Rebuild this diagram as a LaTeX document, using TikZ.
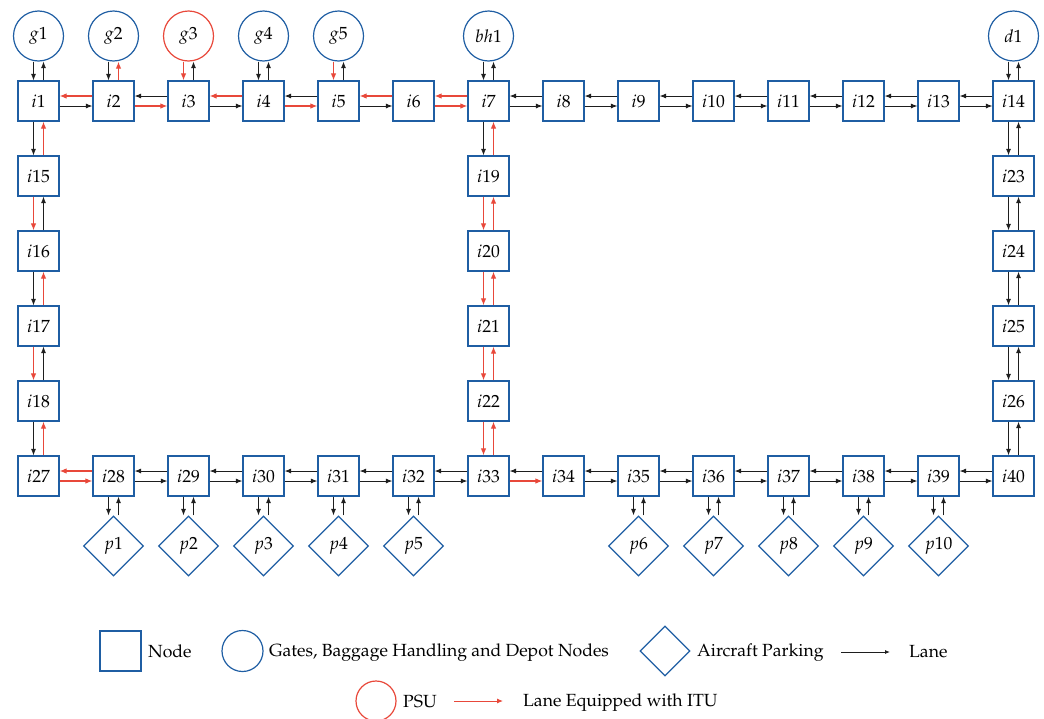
\documentclass[tikz,border=0pt]{standalone}
\usepackage[T1]{fontenc}
\usepackage{mathpazo}
\usetikzlibrary{arrows.meta,shapes.geometric}
\definecolor{nblue}{RGB}{31,94,163}
\definecolor{lred}{RGB}{232,72,58}
\definecolor{lblack}{RGB}{30,30,30}
\newcommand\hpair[4]{%
 \draw[#3] ([yshift=5pt]#2.west) -- ([yshift=5pt]#1.east);
 \draw[#4] ([yshift=-5pt]#1.east) -- ([yshift=-5pt]#2.west);}
\newcommand\vpair[4]{%
 \draw[#3] ([xshift=-5pt]#1.south) -- ([xshift=-5pt]#2.north);
 \draw[#4] ([xshift=5pt]#2.north) -- ([xshift=5pt]#1.south);}
\begin{document}
\begin{tikzpicture}[x=1pt,y=-1pt,
  every node/.style={font=\fontsize{17.6}{21}\selectfont},
  box/.style={draw=nblue,line width=1.2pt,minimum width=41pt,minimum height=40pt,inner sep=0pt},
  gate/.style={circle,draw=nblue,line width=1.2pt,minimum size=50pt,inner sep=0pt},
  psu/.style={gate,draw=lred},
  park/.style={diamond,draw=nblue,line width=1.2pt,minimum width=60pt,minimum height=60pt,inner sep=0pt},
  bl/.style={draw=lblack,line width=0.9pt,-{Latex[length=6.5pt,width=5pt]}},
  rd/.style={draw=lred,line width=1.15pt,-{Latex[length=7pt,width=5.5pt]}},
]
\useasboundingbox (0,0) rectangle (1044,718);
% grid nodes
\foreach \k in {1,...,14} \node[box] (i\k) at ({38.5+75*(\k-1)},101) {$i\k$};
\foreach \k/\y in {15/176,16/251,17/326,18/401} \node[box] (i\k) at (38.5,\y) {$i\k$};
\foreach \k/\y in {19/176,20/251,21/326,22/401} \node[box] (i\k) at (488.5,\y) {$i\k$};
\foreach \k/\y in {23/176,24/251,25/326,26/401} \node[box] (i\k) at (1013.5,\y) {$i\k$};
\foreach \k in {27,...,40} \node[box] (i\k) at ({38.5+75*(\k-27)},476) {$i\k$};
% gates
\node[gate] (g1) at (38.5,36) {$g1$};
\node[gate] (g2) at (113.5,36) {$g2$};
\node[psu] (g3) at (188.5,36) {$g3$};
\node[gate] (g4) at (263.5,36) {$g4$};
\node[gate] (g5) at (338.5,36) {$g5$};
\node[gate] (bh1) at (488.5,36) {$bh1$};
\node[gate] (d1) at (1013.5,36) {$d1$};
% parkings
\foreach \n/\c in {1/28,2/29,3/30,4/31,5/32,6/35,7/36,8/37,9/38,10/39} {
  \node[park] (p\n) at ({38.5+75*(\c-27)},546) {$p\n$};
  \vpair{i\c}{p\n}{bl}{bl}
}
% gate lanes
\vpair{g1}{i1}{bl}{bl}
\vpair{g2}{i2}{bl}{rd}
\vpair{g3}{i3}{rd}{bl}
\vpair{g4}{i4}{bl}{bl}
\vpair{g5}{i5}{rd}{bl}
\vpair{bh1}{i7}{bl}{bl}
\vpair{d1}{i14}{bl}{bl}
% top row
\hpair{i1}{i2}{rd}{bl}
\hpair{i2}{i3}{bl}{rd}
\hpair{i3}{i4}{rd}{bl}
\hpair{i4}{i5}{bl}{rd}
\hpair{i5}{i6}{rd}{bl}
\hpair{i6}{i7}{rd}{rd}
\foreach \a/\b in {7/8,8/9,9/10,10/11,11/12,12/13,13/14} {\hpair{i\a}{i\b}{bl}{bl}}
% left column
\vpair{i1}{i15}{bl}{rd}
\vpair{i15}{i16}{rd}{bl}
\vpair{i16}{i17}{bl}{rd}
\vpair{i17}{i18}{rd}{bl}
\vpair{i18}{i27}{bl}{rd}
% middle column
\vpair{i7}{i19}{bl}{rd}
\foreach \a/\b in {19/20,20/21,21/22,22/33} {\vpair{i\a}{i\b}{rd}{rd}}
% right column
\foreach \a/\b in {14/23,23/24,24/25,25/26,26/40} {\vpair{i\a}{i\b}{bl}{bl}}
% bottom row
\hpair{i27}{i28}{rd}{rd}
\foreach \a/\b in {28/29,29/30,30/31,31/32,32/33} {\hpair{i\a}{i\b}{bl}{bl}}
\hpair{i33}{i34}{bl}{rd}
\foreach \a/\b in {34/35,35/36,36/37,37/38,38/39,39/40} {\hpair{i\a}{i\b}{bl}{bl}}
% legend
\node[box] (lnode) at (120.5,651) {};
\node[anchor=base west,inner sep=0pt] (lnodet) at (148,657) {Node};
\node[gate,minimum size=41pt] (lgate) at (242.5,651) {};
\node[anchor=base west,inner sep=0pt] (lgatet) at (269,656) {Gates, Baggage Handling and Depot Nodes};
\node[park,minimum width=50pt,minimum height=50pt] (lpark) at (665,651) {};
\node[anchor=base west,inner sep=0pt] (lparkt) at (697,656) {Aircraft Parking};
\coordinate (la1) at (841,652);
\coordinate (la2) at (890,652);
\draw[bl,-{Latex[length=5pt,width=4pt]}] (la1) -- (la2);
\node[anchor=base west,inner sep=0pt] (llanet) at (909,657) {Lane};
\node[psu,minimum size=40pt] (lpsu) at (376,701) {};
\node[anchor=base west,inner sep=0pt] (lpsut) at (403,707) {PSU};
\coordinate (lr1) at (454,701);
\coordinate (lr2) at (503,701);
\draw[rd,line width=1pt,-{Latex[length=6pt,width=5pt]}] (lr1) -- (lr2);
\node[anchor=base west,inner sep=0pt] (litut) at (523,706) {Lane Equipped with ITU};
\end{tikzpicture}
\end{document}
